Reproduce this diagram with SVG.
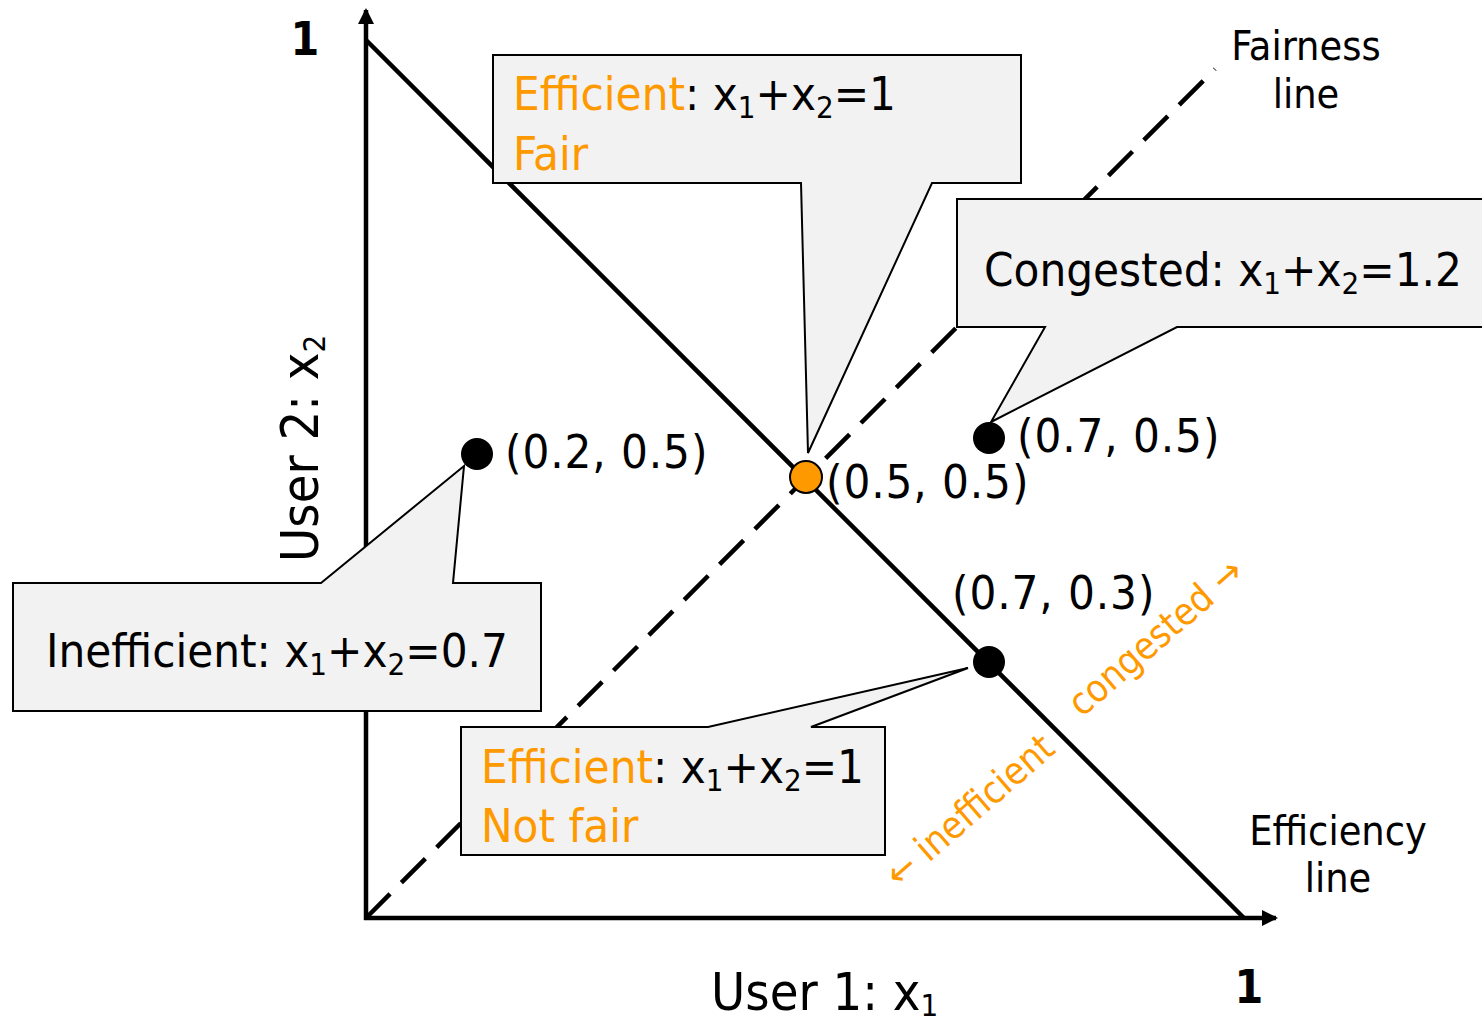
<svg xmlns="http://www.w3.org/2000/svg" width="1482" height="1025" viewBox="0 0 1482 1025">
  <style>
    text { font-family: "DejaVu Sans Condensed", "DejaVu Sans", sans-serif; fill: #000; }
    .lbl { font-size: 47px; }
    .pt { font-size: 47px; letter-spacing: 0.9px; }
    .cap { font-size: 41px; text-anchor: middle; }
    .axis-t { font-size: 52px; }
    .one { font-size: 46px; font-weight: bold; text-anchor: middle; }
    .hot { fill: #ff9900; }
    .note { font-size: 38px; fill: #ff9900; }
    .sub { font-size: 31px; }
    .box { fill: #f2f2f2; stroke: #000; stroke-width: 2; }
    .axis { stroke: #000; stroke-width: 4.5; fill: none; }
    .dot { fill: #000; }
  </style>
  <defs>
    <marker id="head" viewBox="0 0 16 16" refX="14" refY="8" markerWidth="16" markerHeight="16" markerUnits="userSpaceOnUse" orient="auto">
      <path d="M0,0 L16,8 L0,16 Z" fill="#000"/>
    </marker>
  </defs>

  <rect width="1482" height="1025" fill="#fff"/>

  <!-- axes, efficiency line and fairness line -->
  <g id="connectors">
    <line class="axis" x1="366" y1="920" x2="366" y2="10" marker-end="url(#head)"/>
    <line class="axis" x1="364" y1="918" x2="1276" y2="918" marker-end="url(#head)"/>
    <line id="efficiency-line" class="axis" x1="366" y1="40" x2="1244" y2="918"/>
    <line id="fairness-line" class="axis" x1="366" y1="918" x2="1215" y2="69" stroke-dasharray="34 16"/>
  </g>

  <!-- axis captions -->
  <g id="axis-labels">
    <text class="one" x="305" y="55">1</text>
    <text class="one" x="1249" y="1003">1</text>
    <text class="axis-t" x="711" y="1010">User 1: x<tspan class="sub" dy="6">1</tspan></text>
    <text class="axis-t" transform="translate(318,562) rotate(-90)">User 2: x<tspan class="sub" dy="7">2</tspan></text>
  </g>

  <g id="fairness-label">
    <text class="cap" x="1306" y="60">Fairness</text>
    <text class="cap" x="1306" y="108">line</text>
  </g>
  <g id="efficiency-label">
    <text class="cap" x="1338" y="845">Efficiency</text>
    <text class="cap" x="1338" y="892">line</text>
  </g>

  <!-- direction hints along the efficiency line -->
  <g id="direction-hints">
    <text class="note" transform="translate(899,889) rotate(-41)">← inefficient</text>
    <text class="note" transform="translate(1082,718) rotate(-41)">congested →</text>
  </g>

  <!-- callouts -->
  <g id="callout-fair">
    <path class="box" d="M493,55 H1021 V183 H932 L808,453 L801,183 H493 Z"/>
    <text class="lbl" x="513" y="110"><tspan class="hot">Efficient</tspan>: x<tspan class="sub" dy="8">1</tspan><tspan dy="-8">+x</tspan><tspan class="sub" dy="8">2</tspan><tspan dy="-8">=1</tspan></text>
    <text class="lbl hot" x="513" y="170">Fair</text>
  </g>

  <g id="callout-congested">
    <path class="box" d="M957,199 H1490 V327 H1177 L991,422 L1045,327 H957 Z"/>
    <text class="lbl" x="984" y="286">Congested: x<tspan class="sub" dy="8">1</tspan><tspan dy="-8">+x</tspan><tspan class="sub" dy="8">2</tspan><tspan dy="-8">=1.2</tspan></text>
  </g>

  <g id="callout-inefficient">
    <path class="box" d="M13,583 H321 L464,466 L453,583 H541 V711 H13 Z"/>
    <text class="lbl" x="46" y="667">Inefficient: x<tspan class="sub" dy="8">1</tspan><tspan dy="-8">+x</tspan><tspan class="sub" dy="8">2</tspan><tspan dy="-8">=0.7</tspan></text>
  </g>

  <g id="callout-unfair">
    <path class="box" d="M461,727 H708 L968,668 L811,727 H885 V855 H461 Z"/>
    <text class="lbl" x="481" y="783"><tspan class="hot">Efficient</tspan>: x<tspan class="sub" dy="8">1</tspan><tspan dy="-8">+x</tspan><tspan class="sub" dy="8">2</tspan><tspan dy="-8">=1</tspan></text>
    <text class="lbl hot" x="481" y="842">Not fair</text>
  </g>

  <!-- allocation points -->
  <g id="point-02-05">
    <circle class="dot" cx="477" cy="454" r="16"/>
    <text class="pt" x="505" y="468">(0.2, 0.5)</text>
  </g>
  <g id="point-07-05">
    <circle class="dot" cx="989" cy="438" r="16"/>
    <text class="pt" x="1017" y="452">(0.7, 0.5)</text>
  </g>
  <g id="point-07-03">
    <circle class="dot" cx="989" cy="662" r="16"/>
    <text class="pt" x="952" y="609">(0.7, 0.3)</text>
  </g>
  <g id="point-05-05">
    <circle cx="806" cy="477" r="16" fill="#ff9900" stroke="#000" stroke-width="2"/>
    <text class="pt" x="826" y="498">(0.5, 0.5)</text>
  </g>
</svg>
